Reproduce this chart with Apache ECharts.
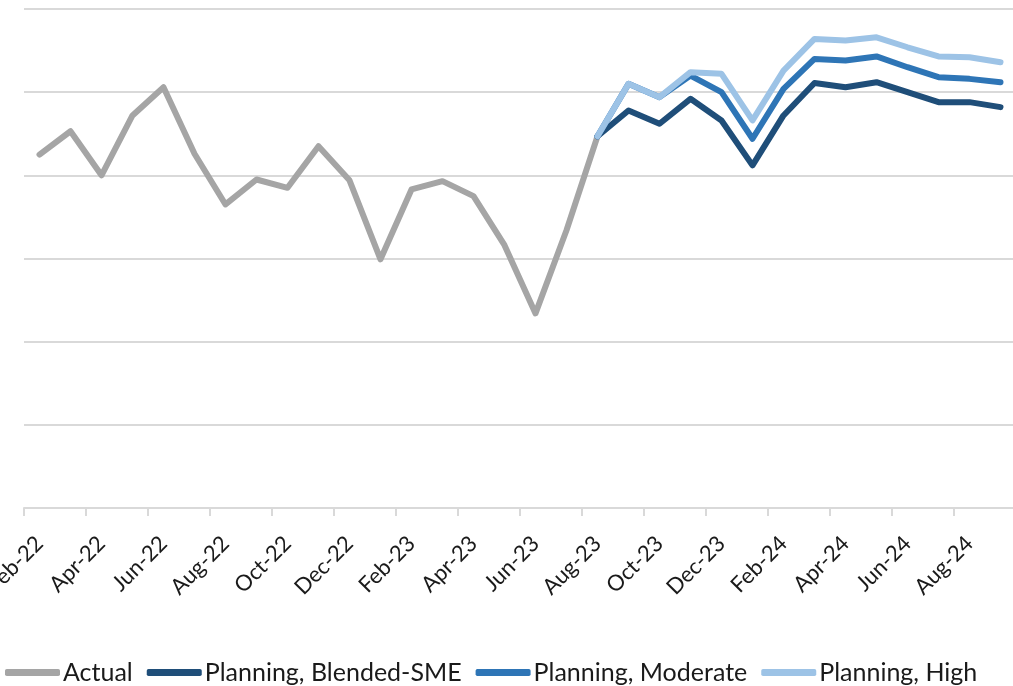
<!DOCTYPE html>
<html>
<head>
<meta charset="utf-8">
<script src="https://cdn.jsdelivr.net/npm/echarts@6/dist/echarts.min.js"></script>
<style>
  html, body { margin: 0; padding: 0; background: #fff; }
  #chart { width: 1013px; height: 686px; }
</style>
</head>
<body>
<div id="chart"></div>
<script>
// months Feb-22 .. Sep-24
const months = [
  'Feb-22', 'Mar-22', 'Apr-22', 'May-22', 'Jun-22', 'Jul-22', 'Aug-22', 'Sep-22',
  'Oct-22', 'Nov-22', 'Dec-22', 'Jan-23', 'Feb-23', 'Mar-23', 'Apr-23', 'May-23',
  'Jun-23', 'Jul-23', 'Aug-23', 'Sep-23', 'Oct-23', 'Nov-23', 'Dec-23', 'Jan-24',
  'Feb-24', 'Mar-24', 'Apr-24', 'May-24', 'Jun-24', 'Jul-24', 'Aug-24', 'Sep-24'
];

const actual = [
  42.5, 45.3, 40.0, 47.2, 50.6, 42.6, 36.5, 39.5,
  38.5, 43.5, 39.4, 29.9, 38.3, 39.3, 37.5, 31.6,
  23.4, 33.4, 44.7, null, null, null, null, null,
  null, null, null, null, null, null, null, null
];

const blended = [
  null, null, null, null, null, null, null, null,
  null, null, null, null, null, null, null, null,
  null, null, 44.7, 47.8, 46.2, 49.2, 46.6, 41.2,
  47.2, 51.1, 50.6, 51.2, 50.0, 48.8, 48.8, 48.2
];

const moderate = [
  null, null, null, null, null, null, null, null,
  null, null, null, null, null, null, null, null,
  null, null, 44.7, 51.0, 49.4, 52.0, 50.0, 44.4,
  50.4, 54.0, 53.8, 54.3, 53.0, 51.8, 51.6, 51.2
];

const high = [
  null, null, null, null, null, null, null, null,
  null, null, null, null, null, null, null, null,
  null, null, 44.7, 51.0, 49.4, 52.4, 52.2, 46.6,
  52.6, 56.4, 56.2, 56.6, 55.4, 54.3, 54.2, 53.6
];

const chart = echarts.init(document.getElementById('chart'));

function lineSeries(name, data, color) {
  return {
    name: name,
    type: 'line',
    data: data,
    symbol: 'none',
    connectNulls: false,
    lineStyle: { width: 6, color: color, cap: 'round', join: 'round' },
    itemStyle: { color: color }
  };
}

chart.setOption({
  animation: false,
  textStyle: { fontFamily: 'Lato' },
  grid: {
    left: 24, top: 9, width: 992, height: 499,
    containLabel: false,
    outerBoundsMode: 'none'
  },
  legend: {
    left: 0,
    top: 655,
    icon: 'roundRect',
    itemWidth: 55,
    itemHeight: 7,
    itemGap: 14,
    textStyle: { fontSize: 25, color: '#1a1a1a', fontFamily: 'Lato', padding: [0, 0, 0, -2] },
    data: ['Actual', 'Planning, Blended-SME', 'Planning, Moderate', 'Planning, High']
  },
  xAxis: {
    type: 'category',
    data: months,
    boundaryGap: true,
    axisLine: { lineStyle: { color: '#d9d9d9', width: 2 } },
    axisTick: { show: true, interval: 1, length: 8, lineStyle: { color: '#d9d9d9', width: 2 } },
    axisLabel: {
      interval: 1,
      rotate: 45,
      margin: 32,
      fontSize: 22,
      color: '#1a1a1a',
      fontFamily: 'Lato',
      hideOverlap: false
    }
  },
  yAxis: {
    type: 'value',
    min: 0,
    max: 60,
    interval: 10,
    axisLine: { show: false },
    axisTick: { show: false },
    axisLabel: { show: false },
    splitLine: { lineStyle: { color: '#d9d9d9', width: 2 } }
  },
  series: [
    lineSeries('Actual', actual, '#a5a5a5'),
    lineSeries('Planning, Blended-SME', blended, '#1f4e79'),
    lineSeries('Planning, Moderate', moderate, '#2e75b6'),
    lineSeries('Planning, High', high, '#9dc3e6')
  ]
});
</script>
</body>
</html>
